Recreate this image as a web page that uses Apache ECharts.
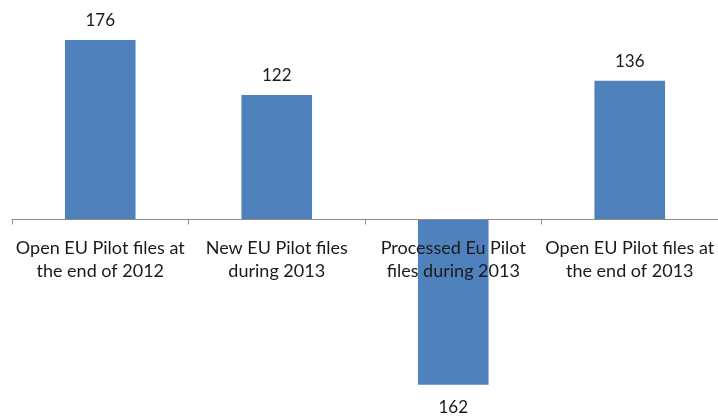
<!DOCTYPE html>
<html>
<head>
<meta charset="utf-8">
<script src="https://cdn.jsdelivr.net/npm/echarts@6/dist/echarts.min.js"></script>
<style>
html,body{margin:0;padding:0;background:#fff;}
#chart{width:718px;height:418px;}
</style>
</head>
<body>
<div id="chart"></div>
<script>
var categories = [
  "Open EU Pilot files at\nthe end of 2012",
  "New EU Pilot files\nduring 2013",
  "Processed Eu Pilot\nfiles during 2013",
  "Open EU Pilot files at\nthe end of 2013"
];
var values = [176, 122, -162, 136];

var chart = echarts.init(document.getElementById('chart'));
var fontFamily = 'Lato, "Open Sans", sans-serif';
var seriesData = values.map(function (v) {
  return {
    value: v,
    label: { position: v < 0 ? 'bottom' : 'top', distance: v < 0 ? 14 : 11 }
  };
});

chart.setOption({
  animation: false,
  backgroundColor: '#ffffff',
  grid: { left: 12, right: 0, top: 15.5, bottom: 198.5, containLabel: false, outerBoundsMode: 'none' },
  xAxis: {
    type: 'category',
    data: categories,
    z: 5,
    axisLine: { onZero: false, lineStyle: { color: '#8c8c8c', width: 1 } },
    axisTick: { show: true, alignWithLabel: false, length: 5, lineStyle: { color: '#8c8c8c' } },
    axisLabel: {
      interval: 0,
      margin: 17,
      fontSize: 18,
      lineHeight: 23,
      color: '#1a1a1a',
      fontFamily: fontFamily
    },
    splitLine: { show: false }
  },
  yAxis: {
    type: 'value',
    min: 0,
    max: 200,
    show: false,
    splitLine: { show: false }
  },
  series: [{
    type: 'bar',
    data: seriesData,
    clip: false,
    barWidth: '40%',
    itemStyle: { color: '#4f81bd' },
    label: {
      show: true,
      fontSize: 17,
      color: '#1a1a1a',
      fontFamily: fontFamily,
      formatter: function (p) { return Math.abs(p.value); }
    }
  }]
});
</script>
</body>
</html>
